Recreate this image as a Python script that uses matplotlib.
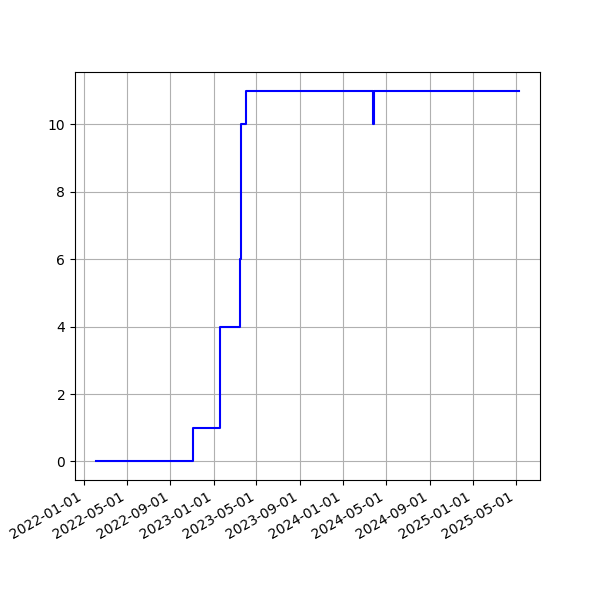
import matplotlib
matplotlib.use("Agg")
import matplotlib.pyplot as plt
import matplotlib.dates as mdates
import numpy as np

dates = ["2022-02-04", "2022-11-04", "2023-01-19", "2023-03-16", "2023-03-19",
         "2023-04-01", "2024-03-26", "2024-03-28", "2025-05-10"]
values = [0, 1, 4, 6, 10, 11, 10, 11, 11]

x = np.array(dates, dtype="datetime64[D]")

fig, ax = plt.subplots(figsize=(6, 6), dpi=100)
ax.plot(x, values, color="blue", drawstyle="steps-post", lw=1.5)
ax.xaxis.set_major_locator(mdates.MonthLocator(bymonth=[1, 5, 9], bymonthday=1))
ax.xaxis.set_major_formatter(mdates.DateFormatter("%Y-%m-%d"))
ax.grid(True)
fig.autofmt_xdate()
fig.savefig("out.png")
